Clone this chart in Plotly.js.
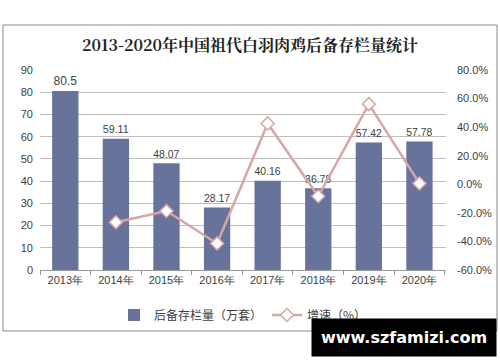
<!DOCTYPE html>
<html><head><meta charset="utf-8">
<script src="https://cdn.plot.ly/plotly-3.0.1.min.js"></script>
<style>body{margin:0;background:#fff}#c{width:500px;height:362px}</style>
</head><body><div id="c"></div>
<script>
const years = ['2013年','2014年','2015年','2016年','2017年','2018年','2019年','2020年'];
const stock = [80.5, 59.11, 48.07, 28.17, 40.16, 36.78, 57.42, 57.78];
const growthYears = ['2014年','2015年','2016年','2017年','2018年','2019年','2020年'];
const growth = [-26.6, -18.7, -41.4, 42.6, -8.4, 56.1, 0.6];
const leftTicks = [0,10,20,30,40,50,60,70,80,90];
const rightTicks = [-60,-40,-20,0,20,40,60,80];

const fnt = {family:'Liberation Sans, Arial, sans-serif', size:11, color:'#404040'};
const traces = [
  {type:'bar', x:years, y:stock, name:'后备存栏量（万套）', marker:{color:'#67739A'}, width:0.52,
   text:stock.map(v=>String(v)), textposition:'outside', cliponaxis:false,
   textfont:{family:fnt.family,size:12,color:'#404040'}, hoverinfo:'skip'},
  {type:'scatter', mode:'lines+markers', x:growthYears, y:growth, yaxis:'y2', name:'增速（%）',
   line:{color:'#D9A5A5', width:2.5},
   marker:{symbol:'diamond', size:10, color:'#ffffff', line:{color:'#D9A5A5', width:1.5}}, hoverinfo:'skip'}
];
const layout = {
  width:500, height:362, margin:{l:40, r:54, t:70, b:92},
  paper_bgcolor:'#fff', plot_bgcolor:'#fff', showlegend:true,
  title:{text:'<b>2013-2020年中国祖代白羽肉鸡后备存栏量统计</b>', x:0.5, xanchor:'center', y:1-45/362, yanchor:'middle',
         font:{family:'Noto Serif CJK SC, Noto Sans CJK SC, serif', size:16, color:'#222'}},
  xaxis:{type:'category', categoryorder:'array', categoryarray:years, tickfont:fnt,
         showline:true, linecolor:'#999', linewidth:1, ticks:'outside', tickson:'boundaries', ticklen:4, tickcolor:'#999',
         showgrid:false, zeroline:false},
  yaxis:{range:[0,90], tickvals:leftTicks, tickfont:fnt, showgrid:true, gridcolor:'#bfbfbf', gridwidth:1,
         zeroline:false, showline:false, ticks:'', ticklabelstandoff:6},
  yaxis2:{range:[-60,80], tickvals:rightTicks, ticktext:rightTicks.map(v=>v.toFixed(1)+'%'), overlaying:'y', side:'right',
          tickfont:fnt, showgrid:false, zeroline:false, showline:false, ticks:'', ticklabelstandoff:10},
  legend:{orientation:'h', x:0.5, xanchor:'center', y:-0.225, yanchor:'middle',
          font:{family:'Noto Sans CJK SC, sans-serif', size:12, color:'#404040'}},
  bargap:0.48,
  shapes:[
    {type:'rect', xref:'paper', yref:'paper', x0:(3-40)/406, x1:(497-40)/406, y0:(270-331)/200, y1:(270-25)/200,
     line:{color:'#888', width:1}, fillcolor:'rgba(0,0,0,0)', layer:'below'}
  ],
  annotations:[
    {xref:'paper', yref:'paper', x:(404-40)/406, y:(270-337)/200, xanchor:'center', yanchor:'middle', showarrow:false,
     text:'<b>www.szfamizi.com</b>', bgcolor:'#000', font:{family:'DejaVu Sans, sans-serif', size:16, color:'#fff'},
     borderpad:9}
  ]
};
Plotly.newPlot('c', traces, layout, {displayModeBar:false, staticPlot:true});
</script></body></html>
